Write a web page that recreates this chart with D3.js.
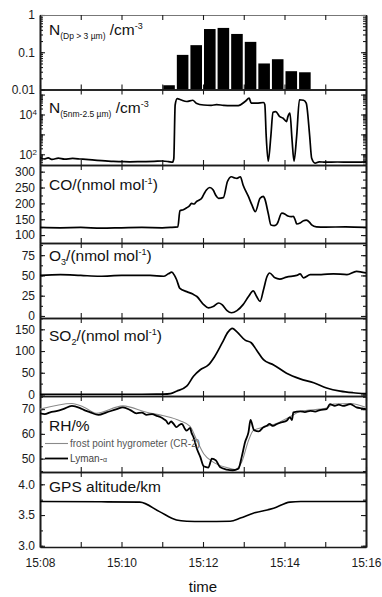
<!DOCTYPE html>
<html>
<head>
<meta charset="utf-8">
<script src="https://cdn.jsdelivr.net/npm/d3@7"></script>
<style>
  body { margin: 0; background: #fff; }
  svg { display: block; }
  text { font-family: "Liberation Sans", Arial, sans-serif; }
</style>
</head>
<body>
<svg id="chart" width="382" height="597"></svg>
<script>
// All times are minutes after 15:00 (local flight time).

// Coarse particles N(Dp > 3 µm), 20-second bins
const coarseBinStart = [11.000, 11.333, 11.667, 12.000, 12.333, 12.667, 13.000, 13.333, 13.667, 14.000, 14.333];
const coarseBinWidth = 1 / 3;
const coarseConc = [0.013, 0.085, 0.155, 0.42, 0.45, 0.31, 0.19, 0.050, 0.065, 0.031, 0.029];

// Fine particles N(5 nm - 2.5 µm)
const fineTime = [8.00, 8.10, 8.20, 8.30, 8.45, 8.60, 8.80, 9.00, 9.20, 9.40, 9.60, 9.80, 10.00, 10.20, 10.50, 10.80, 11.00, 11.15, 11.25,
  11.29, 11.31, 11.37, 11.45, 11.60, 11.75, 11.84, 12.01, 12.20, 12.34, 12.50, 12.66, 12.87, 13.03, 13.14, 13.19, 13.32, 13.48, 13.52,
  13.55, 13.60, 13.66, 13.71, 13.79, 13.89, 13.97, 14.05, 14.09, 14.13, 14.18, 14.23, 14.30, 14.36, 14.46, 14.54, 14.61, 14.67, 14.75,
  14.85, 15.00, 15.30, 15.60, 16.00];
const fineConc = [70, 58, 66, 55, 64, 57, 62, 58, 54, 50, 47, 44, 43, 42, 43, 44, 46, 43, 40,
  60, 30000, 62000, 55000, 45000, 52000, 37000, 30000, 29000, 31000, 29000, 28000, 28000, 45000, 66000, 37000, 37000, 40000, 32000,
  900, 45, 900, 13000, 14000, 7800, 6500, 4400, 7800, 11700, 600, 45, 900, 55000, 52000, 37000, 900, 63, 36,
  42, 40, 41, 40, 42];

// CO mixing ratio / (nmol mol-1)
const coTime = [8.00, 8.50, 9.00, 9.50, 10.00, 10.50, 11.00, 11.20, 11.38, 11.44, 11.52, 11.60, 11.66, 11.72, 11.78, 11.84, 11.90, 11.97,
  12.03, 12.09, 12.17, 12.25, 12.32, 12.38, 12.50, 12.60, 12.70, 12.78, 12.83, 12.91, 12.99, 13.11, 13.20, 13.28, 13.40, 13.48, 13.52,
  13.60, 13.66, 13.75, 13.81, 13.93, 14.01, 14.09, 14.16, 14.22, 14.26, 14.30, 14.38, 14.46, 14.54, 14.62, 14.67, 14.79, 15.00, 15.50, 16.00];
const coValue = [124, 123, 124, 122, 123, 124, 123, 124, 126, 177, 180, 186, 192, 200, 198, 205, 210, 216,
  232, 242, 250, 242, 225, 216, 218, 269, 284, 280, 279, 284, 258, 221, 195, 174, 216, 222, 214,
  169, 132, 130, 135, 169, 166, 160, 158, 159, 146, 135, 138, 145, 147, 140, 132, 126, 125, 126, 124];

// O3 mixing ratio / (nmol mol-1)
const o3Time = [8.00, 8.50, 9.00, 9.47, 10.00, 10.70, 11.03, 11.15, 11.23, 11.30, 11.35, 11.44, 11.60, 11.75, 11.85, 12.01, 12.13, 12.25,
  12.38, 12.46, 12.58, 12.70, 12.83, 12.99, 13.11, 13.23, 13.32, 13.40, 13.48, 13.56, 13.64, 13.77, 13.89, 14.05, 14.30, 14.38, 14.46,
  14.63, 14.90, 15.20, 15.53, 15.77, 16.00];
const o3Value = [50, 51, 50, 49, 50, 50, 49, 52, 54, 50, 45, 34, 30, 27, 24, 14, 10, 11.6,
  16, 14, 7, 4, 6.6, 14, 24, 31, 24, 18, 32, 48, 53, 47, 45.5, 48, 50, 52, 47,
  51, 51, 52, 51, 55, 53];

// SO2 mixing ratio / (nmol mol-1)
const so2Time = [8.00, 9.00, 10.00, 10.50, 11.03, 11.20, 11.35, 11.60, 11.76, 11.93, 12.13, 12.29, 12.46, 12.62, 12.72, 12.83, 13.03,
  13.19, 13.32, 13.48, 13.73, 14.05, 14.38, 14.71, 15.04, 15.36, 15.69, 16.00];
const so2Value = [0.5, 0.5, 0.5, 0.5, 0.8, 2, 7.6, 19, 42, 57, 68, 87, 118, 144, 152, 144, 125,
  119, 102, 80, 68, 49, 36, 27, 15, 7.6, 4, 2];

// Relative humidity / %, Lyman-alpha hygrometer
const rhLymanTime = [8.00, 8.12, 8.25, 8.40, 8.57, 8.78, 8.98, 9.10, 9.23, 9.43, 9.64, 9.88, 10.04, 10.21, 10.37, 10.50, 10.62, 10.75,
  10.86, 10.95, 11.03, 11.10, 11.15, 11.22, 11.27, 11.35, 11.42, 11.48, 11.55, 11.60, 11.68, 11.72, 11.76, 11.85, 11.93, 12.01, 12.13,
  12.21, 12.32, 12.42, 12.58, 12.74, 12.87, 12.95, 13.03, 13.11, 13.17, 13.25, 13.36, 13.48, 13.56, 13.64, 13.72, 13.81, 13.93, 14.05,
  14.13, 14.18, 14.22, 14.38, 14.50, 14.63, 14.75, 14.87, 15.04, 15.12, 15.24, 15.34, 15.44, 15.61, 15.77, 15.90, 16.00];
const rhLymanValue = [68.3, 68.0, 68.7, 69.2, 70.0, 71.3, 70.4, 69.5, 68.7, 67.7, 68.7, 70.0, 70.7, 69.6, 68.3, 68.6, 67.7, 68.0,
  67.3, 66.8, 66.0, 65.2, 64.0, 65.0, 64.3, 62.7, 63.6, 64.0, 62.2, 61.3, 62.4, 60.5, 58.7, 54.0, 50.7, 46.9, 46.4,
  50.0, 49.3, 46.6, 45.6, 45.3, 45.9, 50.7, 56.7, 60.7, 65.6, 61.6, 61.0, 62.7, 63.3, 64.0, 63.2, 64.0, 64.7, 65.3,
  66.7, 65.6, 68.7, 69.1, 68.8, 69.3, 69.0, 69.6, 70.0, 72.0, 71.3, 71.8, 71.3, 72.0, 70.7, 70.3, 70.0];

// Relative humidity / %, frost point hygrometer (CR-2)
const rhCr2Time = [8.00, 8.78, 9.06, 9.39, 10.04, 10.62, 11.03, 11.43, 11.68, 11.85, 12.01, 12.25, 12.58, 12.78, 12.95, 13.11, 13.23,
  13.48, 13.81, 14.13, 14.38, 15.04, 15.20, 15.61, 16.00];
const rhCr2Value = [70.0, 72.3, 70.9, 68.3, 71.3, 68.7, 67.3, 65.3, 63.0, 57.3, 52.0, 48.6, 46.4, 45.6, 48.6, 57.3, 61.3,
  62.7, 64.3, 66.9, 69.1, 70.4, 72.0, 72.3, 70.7];

// GPS altitude / km
const altTime = [8.00, 9.50, 10.45, 10.94, 11.35, 11.60, 12.00, 12.66, 12.91, 13.23, 13.73, 14.13, 14.40, 15.00, 16.00];
const altValue = [3.72, 3.715, 3.71, 3.555, 3.42, 3.40, 3.395, 3.40, 3.45, 3.53, 3.61, 3.71, 3.72, 3.72, 3.72];

// Axis ticks
const xTickMinutes = [8, 9, 10, 11, 12, 13, 14, 15, 16];
const xLabelMinutes = [8, 10, 12, 14, 16];

// ---------------------------------------------------------------------
const clock = m => new Date(2000, 0, 1, 15, 0, Math.round(m * 60));
const zip = (t, v) => t.map((d, i) => ({ t: clock(d), v: v[i] }));

const L = 40, R = 366;
const svg = d3.select("#chart");
const x = d3.scaleTime().domain([clock(8), clock(16)]).range([L, R]);
const fmtTime = d3.timeFormat("%H:%M");

const panels = [
  { top: 15,   bottom: 89.5 },
  { top: 89.5, bottom: 165 },
  { top: 165,  bottom: 243 },
  { top: 243,  bottom: 318 },
  { top: 318,  bottom: 396 },
  { top: 396,  bottom: 472 },
  { top: 472,  bottom: 547 }
];

const yScales = [
  d3.scaleLog().domain([0.01, 1]),
  d3.scaleLog().domain([29, 180000]),
  d3.scaleLinear().domain([75, 321]),
  d3.scaleLinear().domain([-2.5, 90]),
  d3.scaleLinear().domain([-3.5, 176]),
  d3.scaleLinear().domain([44.6, 75.3]),
  d3.scaleLinear().domain([2.98, 4.2])
];
yScales.forEach((y, i) => y.range([panels[i].bottom, panels[i].top]));

function logMinors(y) {
  const [a, b] = y.domain();
  const out = [];
  for (let e = Math.floor(Math.log10(a)); e <= Math.ceil(Math.log10(b)); e++)
    for (let m = 1; m <= 9; m++) {
      const v = m * Math.pow(10, e);
      if (v >= a && v <= b) out.push(v);
    }
  return out;
}
function linTicks(y, step) {
  const [a, b] = y.domain();
  return d3.range(Math.ceil(a / step) * step, b + 1e-9, step);
}

const tickSpec = [
  { major: [0.01, 0.1, 1], minor: logMinors(yScales[0]), fmt: d => String(d) },
  { major: [100, 1000, 10000, 100000], minor: logMinors(yScales[1]), fmt: () => "", pow: [100, 10000] },
  { major: linTicks(yScales[2], 50), minor: linTicks(yScales[2], 25), fmt: d3.format("d") },
  { major: linTicks(yScales[3], 25), minor: linTicks(yScales[3], 12.5), fmt: d3.format("d") },
  { major: linTicks(yScales[4], 50), minor: linTicks(yScales[4], 25), fmt: d3.format("d") },
  { major: [50, 60, 70], minor: linTicks(yScales[5], 5), fmt: d3.format("d") },
  { major: [3.0, 3.5, 4.0], minor: linTicks(yScales[6], 0.25), fmt: d3.format(".1f") }
];

const defs = svg.append("defs");
panels.forEach((p, i) => {
  defs.append("clipPath").attr("id", "clip" + i)
    .append("rect").attr("x", L).attr("y", p.top).attr("width", R - L).attr("height", p.bottom - p.top);
});

function styleAxis(g) {
  g.attr("font-size", 12).attr("font-family", "'Liberation Sans', Arial, sans-serif").attr("color", "#1a1a1a");
  g.select(".domain").attr("stroke-width", 1.6);
  g.selectAll(".tick line").attr("stroke-width", 1.1);
}

// Axes and frames
panels.forEach((p, i) => {
  const y = yScales[i], s = tickSpec[i];
  const g = svg.append("g");
  const left = g.append("g").attr("transform", `translate(${L},0)`)
    .call(d3.axisLeft(y).tickValues(s.major).tickSize(-5).tickSizeOuter(0).tickPadding(5).tickFormat(s.fmt));
  styleAxis(left);
  if (s.pow) {
    left.selectAll(".tick text").each(function (d) {
      if (s.pow.includes(d)) {
        const t = d3.select(this);
        t.text("10");
        t.append("tspan").attr("dy", "-0.45em").attr("font-size", "8px").text(Math.round(Math.log10(d)));
        t.attr("dx", "2");
      }
    });
  }
  styleAxis(g.append("g").attr("transform", `translate(${L},0)`)
    .call(d3.axisLeft(y).tickValues(s.minor).tickSize(-3).tickSizeOuter(0).tickFormat("")));
  styleAxis(g.append("g").attr("transform", `translate(${R},0)`)
    .call(d3.axisRight(y).tickValues(s.major).tickSize(-5).tickSizeOuter(0).tickFormat("")));
  styleAxis(g.append("g").attr("transform", `translate(${R},0)`)
    .call(d3.axisRight(y).tickValues(s.minor).tickSize(-3).tickSizeOuter(0).tickFormat("")));

  const topAx = g.append("g").attr("transform", `translate(0,${p.top})`)
    .call(d3.axisTop(x).tickValues(xTickMinutes.map(clock)).tickSize(-5).tickSizeOuter(0).tickFormat(""));
  styleAxis(topAx);
  if (i === 0) topAx.select(".domain").attr("stroke", "#777").attr("stroke-width", 1);

  const last = i === panels.length - 1;
  const bot = g.append("g").attr("transform", `translate(0,${p.bottom})`)
    .call(d3.axisBottom(x).tickValues(xTickMinutes.map(clock)).tickSize(-5).tickSizeOuter(0).tickPadding(11)
      .tickFormat(d => last && xLabelMinutes.includes(d.getMinutes()) ? fmtTime(d) : ""));
  styleAxis(bot);
});

// Panel 1: coarse particle bars
const y0 = yScales[0];
svg.append("g").attr("clip-path", "url(#clip0)")
  .selectAll("rect").data(coarseBinStart.map((s, i) => ({ s, v: coarseConc[i] })))
  .join("rect")
  .attr("x", d => x(clock(d.s)) + 1)
  .attr("width", d => x(clock(d.s + coarseBinWidth)) - x(clock(d.s)) - 2)
  .attr("y", d => y0(d.v))
  .attr("height", d => y0(0.01) - y0(d.v))
  .attr("fill", "#000");

// Line panels
function drawLine(i, data, opts = {}) {
  const y = yScales[i];
  svg.append("path")
    .datum(data)
    .attr("clip-path", `url(#clip${i})`)
    .attr("fill", "none")
    .attr("stroke", opts.color || "#000")
    .attr("stroke-width", opts.width || 1.7)
    .attr("stroke-linejoin", "round")
    .attr("d", d3.line().x(d => x(d.t)).y(d => y(d.v)).curve(opts.curve || d3.curveMonotoneX));
}
drawLine(1, zip(fineTime, fineConc));
drawLine(2, zip(coTime, coValue));
drawLine(3, zip(o3Time, o3Value));
drawLine(4, zip(so2Time, so2Value));
drawLine(5, zip(rhCr2Time, rhCr2Value), { color: "#8a8a8a", width: 1.1 });
drawLine(5, zip(rhLymanTime, rhLymanValue), { width: 1.8 });
drawLine(6, zip(altTime, altValue), { width: 1.6 });

// Panel labels
function label(xp, yp, parts) {
  const t = svg.append("text").attr("x", xp).attr("y", yp).attr("fill", "#111");
  parts.forEach(([txt, size, dy]) => t.append("tspan").attr("font-size", size).attr("dy", dy || 0).text(txt));
}
const big = 15.5;
label(49, 35, [["N", big], ["(Dp > 3 µm)", 8.5, 4], [" /cm", big, -4], ["-3", 9, -6]]);
label(49, 113, [["N", big], ["(5nm-2.5 µm)", 8.5, 4], [" /cm", big, -4], ["-3", 9, -6]]);
label(49, 190, [["CO/(nmol mol", big], ["-1", 9, -6], [")", big, 6]]);
label(49, 261, [["O", big], ["3", 9, 4], ["/(nmol mol", big, -4], ["-1", 9, -6], [")", big, 6]]);
label(49, 341, [["SO", big], ["2", 9, 4], ["/(nmol mol", big, -4], ["-1", 9, -6], [")", big, 6]]);
label(49, 431, [["RH/%", big]]);
label(49, 491.5, [["GPS altitude/km", big]]);

// RH legend
const legend = svg.append("g");
legend.append("line").attr("x1", 45).attr("x2", 68).attr("y1", 443.5).attr("y2", 443.5)
  .attr("stroke", "#8a8a8a").attr("stroke-width", 1.1);
legend.append("text").attr("x", 70).attr("y", 446.5).attr("font-size", 10).attr("fill", "#555")
  .text("frost point hygrometer (CR-2)");
legend.append("line").attr("x1", 45).attr("x2", 68).attr("y1", 458.5).attr("y2", 458.5)
  .attr("stroke", "#000").attr("stroke-width", 1.8);
const ly = legend.append("text").attr("x", 70).attr("y", 461.5).attr("font-size", 10).attr("fill", "#444");
ly.append("tspan").text("Lyman-");
ly.append("tspan").attr("font-size", 7).text("α");

// x-axis title
svg.append("text").attr("x", (L + R) / 2).attr("y", 592).attr("text-anchor", "middle")
  .attr("font-size", 15).attr("fill", "#111").text("time");
</script>
</body>
</html>
